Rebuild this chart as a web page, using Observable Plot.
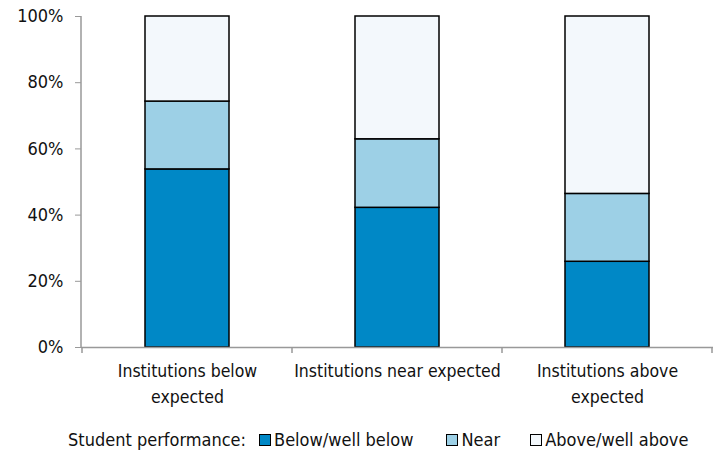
<!DOCTYPE html>
<html><head><meta charset="utf-8">
<script src="https://cdn.jsdelivr.net/npm/d3@7"></script>
<script src="https://cdn.jsdelivr.net/npm/@observablehq/plot@0.6"></script>
<style>
body{margin:0;background:#fff;font-family:"DejaVu Sans Condensed",sans-serif;}
#legend{display:flex;align-items:center;height:29px;font-size:18px;color:#111;padding-left:68px;}
#legend .sw{display:inline-block;width:10px;height:10px;border:1.5px solid #000;margin-right:3px;}
#legend .item{display:flex;align-items:center;}
</style></head><body>
<div id="chart"></div>
<div id="legend"></div>
<script>
const categories = ["Institutions below\nexpected", "Institutions near expected", "Institutions above\nexpected"];
const seriesNames = ["Below/well below", "Near", "Above/well above"];
const below = [53.8, 42.2, 25.9];
const near = [20.5, 20.7, 20.5];
const above = [25.7, 37.1, 53.6];
const colors = ["#0088C6", "#9DD0E6", "#F3F8FC"];
const yTicks = [0, 20, 40, 60, 80, 100];

const data = [];
categories.forEach((c, i) => {
  [below, near, above].forEach((arr, j) => data.push({cat: c, series: seriesNames[j], value: arr[i]}));
});

const chart = Plot.plot({
  width: 715, height: 425,
  marginLeft: 81, marginRight: 2, marginTop: 16, marginBottom: 78,
  style: {fontFamily: '"DejaVu Sans Condensed",sans-serif', fontSize: "17.5px", color: "#111"},
  x: {domain: categories, paddingInner: 0.6, paddingOuter: 0.3, label: null},
  y: {domain: [0, 100], label: null},
  color: {domain: seriesNames, range: colors},
  marks: [
    Plot.barY(data, Plot.stackY({x: "cat", y: "value", fill: "series", order: seriesNames, stroke: "#000", strokeWidth: 1.5})),
    Plot.ruleY([0], {stroke: "#999", strokeWidth: 1.5}),
    Plot.axisY({ticks: yTicks, tickFormat: d => d + "%", tickSize: 6, tickPadding: 12, stroke: "#999", fill: "#111", fontSize: 18}),
    Plot.axisX({tickSize: 0, tickPadding: 11, lineHeight: 1.5, fill: "#111", fontSize: 17.5})
  ]
});
document.getElementById("chart").appendChild(chart);

const svg = d3.select(chart);
const xs = chart.scale("x"), ys = chart.scale("y");
const y0 = ys.apply(0), y1 = ys.apply(100);
const [left, right] = xs.range;
svg.append("line").attr("x1", left).attr("x2", left).attr("y1", y1).attr("y2", y0).attr("stroke", "#999").attr("stroke-width", 1.5);
const gap = xs.step - xs.bandwidth;
const bounds = [xs.apply(categories[0]) - gap / 2];
categories.forEach(c => bounds.push(xs.apply(c) + xs.bandwidth + gap / 2));
bounds.forEach(b => svg.append("line").attr("x1", b).attr("x2", b).attr("y1", y0).attr("y2", y0 + 6).attr("stroke", "#999").attr("stroke-width", 1.5));

const leg = document.getElementById("legend");
const gaps = [33, 30, 0];
leg.innerHTML = `<span style="margin-right:13px">Student performance:</span>` +
  seriesNames.map((s, i) => `<span class="item" style="margin-right:${gaps[i]}px"><span class="sw" style="background:${colors[i]}"></span>${s}</span>`).join("");
</script>
</body></html>
